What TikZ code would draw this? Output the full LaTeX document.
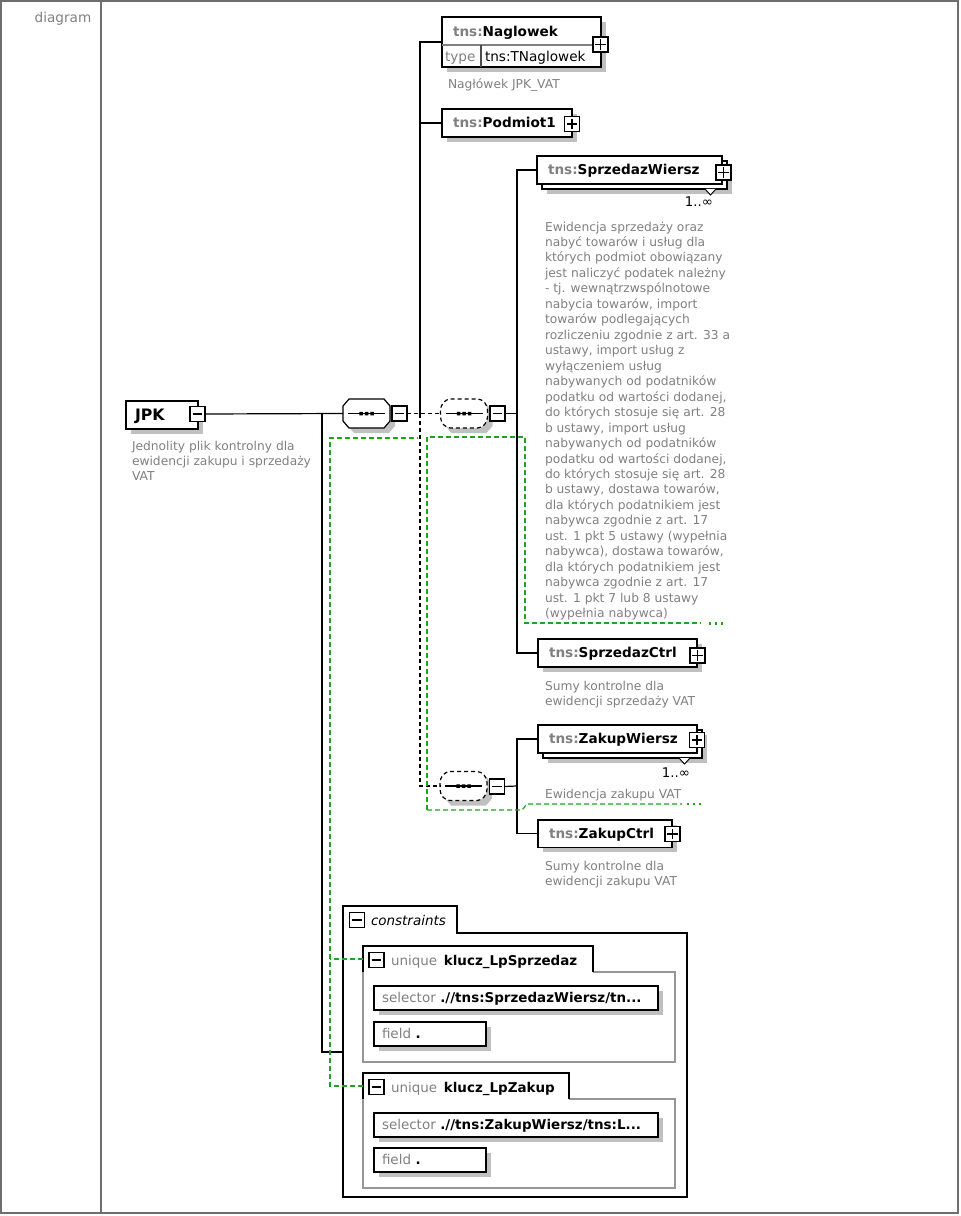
\documentclass[tikz,border=0pt]{standalone}
\usepackage{fontspec}
\setmainfont{DejaVu Sans}
\usetikzlibrary{shadows}
\newcommand\titlef{\fontsize{10.2}{12}\selectfont\bfseries}
\newcommand\titlereg{\fontsize{10.2}{12}\selectfont}
\newcommand\descf{\fontsize{9.2}{11.6}\selectfont}
\newcommand\consf{\fontsize{10.1}{12}\selectfont}
\newcommand\fstrut{\rule{0pt}{7.5pt}}
\definecolor{shadowgray}{RGB}{192,192,192}
\definecolor{txtgray}{RGB}{128,128,128}
\definecolor{kgreen}{RGB}{30,165,30}
\definecolor{framegray}{RGB}{110,110,110}
\definecolor{boxgray}{RGB}{150,150,150}
\tikzset{
  shd/.style={general shadow={fill=shadowgray, shadow xshift=3.75pt, shadow yshift=-3.75pt}},
  elem/.style 2 args={draw=black, line width=0.9pt, fill=white, anchor=north west, inner xsep=8.25pt, inner ysep=0pt, outer sep=0pt, text width=#1, minimum height=#2, align=left, font=\titlef, text height=7.4pt, text depth=0.8pt, shd},
  elemm/.style 2 args={draw=black, line width=0.9pt, fill=white, anchor=north west, inner xsep=8.25pt, inner ysep=0pt, outer sep=0pt, text width=#1, minimum height=#2, align=left, font=\titlef, text height=7.4pt, text depth=0.8pt,
     general shadow={fill=shadowgray, shadow xshift=7.5pt, shadow yshift=-7.5pt},
     general shadow={draw=black, fill=white, shadow xshift=3.75pt, shadow yshift=-3.75pt}},
  boxn/.style 2 args={draw=black, line width=0.9pt, fill=white, anchor=north west, inner sep=0pt, outer sep=0pt, minimum width=#1, minimum height=#2, shd},
  pbox/.style={draw=black, line width=1.3pt, fill=white, minimum size=11.25pt, inner sep=0pt, outer sep=0pt,
     general shadow={fill=black, shadow xshift=0.6pt, shadow yshift=-0.6pt},
     path picture={\draw[line width=1pt] ([xshift=-3.9pt]path picture bounding box.center) -- ([xshift=3.9pt]path picture bounding box.center) ([yshift=-3.9pt]path picture bounding box.center) -- ([yshift=3.9pt]path picture bounding box.center);}},
  mbox/.style={draw=black, line width=0.9pt, fill=white, minimum size=11.25pt, inner sep=0pt, outer sep=0pt,
     path picture={\draw[line width=1pt] ([xshift=-3.6pt]path picture bounding box.center) -- ([xshift=3.6pt]path picture bounding box.center);}},
  mboxk/.style={mbox, line width=1.4pt},
  seqn/.style={minimum width=35.25pt, minimum height=21.75pt, inner sep=0pt, outer sep=0pt},
  desc/.style={font=\descf, text=txtgray, align=left, inner sep=0pt, outer sep=0pt, anchor=north west},
  lbl/.style={inner sep=0pt, outer sep=0pt},
  conn/.style={draw=black, line width=0.9pt},
  dconn/.style={draw=black, line width=0.9pt, dash pattern=on 3pt off 2.25pt},
  kg/.style={draw=kgreen, line width=0.9pt, dash pattern=on 3.75pt off 2.25pt},
  kgdots/.style={draw=kgreen, line width=1.8pt, dash pattern=on 1.8pt off 2.7pt},
  selb/.style 2 args={draw=black, line width=0.9pt, fill=white, anchor=north west, inner xsep=6pt, inner ysep=0pt, outer sep=0pt, text width=#1, minimum height=18pt, align=left, font=\consf, text height=7.2pt, text depth=0.5pt, shd},
}
\newcommand\octo[3]{%
  \path[#3] (#1,#2) ++(-17.5,-14.5) -- ++(35,0) -- ++(6,7) -- ++(0,15) -- ++(-6,7) -- ++(-35,0) -- ++(-6,-7) -- ++(0,-15) -- cycle;}
\newcommand\seqsym[2]{%
  \draw[line width=0.9pt] (#1,#2) +(-18.5,0) -- +(18.5,0);
  \fill (#1,#2) +(-7.25,-1.75) rectangle +(-3.75,1.75) +(-1.75,-1.75) rectangle +(1.75,1.75) +(3.75,-1.75) rectangle +(7.25,1.75);}
\begin{document}
\begin{tikzpicture}[x=0.75pt,y=-0.75pt]
\useasboundingbox (0,0) rectangle (960,1216);
% frame
\draw[framegray, line width=1.1pt] (1,1) rectangle (958,1213);
\draw[framegray, line width=0.9pt] (101,1) -- (101,1213);
\node[lbl, anchor=base, font=\fontsize{10.2}{12}\selectfont, text=txtgray] (diag) at (63,22.5) {diagram};

% JPK
\node[elem={40.5pt}{21pt}, inner xsep=6.75pt, font=\fontsize{11.8}{13}\selectfont\bfseries, text height=8.5pt] (jpk) at (126,401) {JPK};
\node[mbox] (jpkm) at (197.5,414) {};
\node[desc] (jpkd) at (132,440) {\fstrut Jednolity plik kontrolny dla\\ewidencji zakupu i sprzedaży\\VAT};

% Naglowek
\node[boxn={119.25pt}{37.5pt}] (nag) at (442,17) {};
\draw[gray, line width=0.8pt] (442,45) -- (601,45);
\draw[black!70, line width=0.8pt] (481,45) -- (481,67);
\node[lbl, anchor=base west, font=\titlef] (nagt) at (453,36.5) {\textcolor{txtgray}{tns:}Naglowek};
\node[lbl, anchor=base west, font=\titlereg, text=txtgray] (nagtl) at (445,62) {type};
\node[lbl, anchor=base west, font=\titlereg] (nagtv) at (485,62) {tns:TNaglowek};
\node[pbox] (nagp) at (600.5,44.5) {};
\node[desc] (nagd) at (448,79) {\fstrut Nagłówek JPK\_VAT};

% Podmiot1
\node[elem={81pt}{21pt}] (pod) at (442,109) {\textcolor{txtgray}{tns:}Podmiot1};
\node[pbox] (podp) at (572,124) {};

% sequences
\octo{371.5}{418.5}{fill=shadowgray}
\octo{366.5}{413.5}{draw=black, line width=0.9pt, fill=white}
\seqsym{366.5}{413.5}
\node[seqn] (seq1) at (366.5,413.5) {};
\node[mbox] (seq1m) at (399.5,413.5) {};

\octo{469}{418.5}{fill=shadowgray}
\octo{464}{413.5}{draw=black, line width=0.9pt, fill=white, dash pattern=on 3pt off 2.25pt, rounded corners=3pt}
\seqsym{464}{413.5}
\node[seqn] (seq2) at (464,413.5) {};
\node[mboxk] (seq2m) at (497.5,413.5) {};

\octo{468.5}{791}{fill=shadowgray}
\octo{463.5}{786}{draw=black, line width=0.9pt, fill=white, dash pattern=on 3pt off 2.25pt, rounded corners=3pt}
\seqsym{463.5}{786}
\node[seqn] (seq3) at (463.5,786) {};
\node[mboxk] (seq3m) at (497,786.5) {};

% SprzedazWiersz
\node[elemm={122.25pt}{21pt}] (sw) at (537,156) {\textcolor{txtgray}{tns:}SprzedazWiersz};
\node[pbox] (swp) at (723.5,172.5) {};
\draw[black, line width=0.7pt, fill=white] (705,189) -- (710.5,195) -- (716,189);
\node[lbl, anchor=base east, font=\fontsize{10}{12}\selectfont] (swc) at (713,207) {1..∞};
\node[desc] (swd) at (545,221) {\fstrut Ewidencja sprzedaży oraz\\nabyć towarów i usług dla\\których podmiot obowiązany\\jest naliczyć podatek należny\\- tj. wewnątrzwspólnotowe\\nabycia towarów, import\\towarów podlegających\\rozliczeniu zgodnie z art. 33 a\\ustawy, import usług z\\wyłączeniem usług\\nabywanych od podatników\\podatku od wartości dodanej,\\do których stosuje się art. 28\\b ustawy, import usług\\nabywanych od podatników\\podatku od wartości dodanej,\\do których stosuje się art. 28\\b ustawy, dostawa towarów,\\dla których podatnikiem jest\\nabywca zgodnie z art. 17\\ust. 1 pkt 5 ustawy (wypełnia\\nabywca), dostawa towarów,\\dla których podatnikiem jest\\nabywca zgodnie z art. 17\\ust. 1 pkt 7 lub 8 ustawy\\(wypełnia nabywca)};

% SprzedazCtrl
\node[elem={102.75pt}{21pt}] (sc) at (538,639) {\textcolor{txtgray}{tns:}SprzedazCtrl};
\node[pbox] (scp) at (697.5,655.5) {};
\node[desc] (scd) at (545,680) {\fstrut Sumy kontrolne dla\\ewidencji sprzedaży VAT};

% ZakupWiersz
\node[elemm={102.75pt}{21pt}] (zw) at (538,725) {\textcolor{txtgray}{tns:}ZakupWiersz};
\node[pbox] (zwp) at (697,740) {};
\draw[black, line width=0.7pt, fill=white] (679,758) -- (684.5,764) -- (690,758);
\node[lbl, anchor=base east, font=\fontsize{10}{12}\selectfont] (zwc) at (690,777) {1..∞};
\node[desc] (zwd) at (545,788) {\fstrut Ewidencja zakupu VAT};

% ZakupCtrl
\node[elem={84pt}{20.5pt}] (zc) at (538,820) {\textcolor{txtgray}{tns:}ZakupCtrl};
\node[pbox] (zcp) at (672.5,834) {};
\node[desc] (zcd) at (545,860) {\fstrut Sumy kontrolne dla\\ewidencji zakupu VAT};

% constraints
\draw[black, line width=1.1pt, fill=white] (343,906) -- (457,906) -- (457,933) -- (687,933) -- (687,1197) -- (343,1197) -- cycle;
\coordinate (cons) at (343,1052);
\node[mbox] (consm) at (357,920) {};
\node[lbl, anchor=base west, font=\consf\itshape] (consl) at (371,925) {constraints};

% unique 1
\draw[boxgray, line width=0.8pt] (593,972) -- (675,972) -- (675,1062) -- (363,1062) -- (363,972);
\draw[black, line width=0.8pt] (363,972) -- (363,946) -- (593,946) -- (593,972);
\coordinate (u1) at (363,959);
\node[mbox] (u1m) at (376.5,960) {};
\node[lbl, anchor=base west, font=\consf] (u1l) at (391,965) {\textcolor{txtgray}{unique}\hspace{5pt}\textbf{klucz\_LpSprzedaz}};
\node[selb={201pt}{18pt}] (u1s) at (374,986) {\textcolor{txtgray}{selector} \textbf{.//tns:SprzedazWiersz/tn...}};
\node[selb={72pt}{18pt}] (u1f) at (374,1022) {\textcolor{txtgray}{field} \textbf{.}};

% unique 2
\draw[boxgray, line width=0.8pt] (569,1099) -- (675,1099) -- (675,1188) -- (363,1188) -- (363,1099);
\draw[black, line width=0.8pt] (363,1099) -- (363,1073) -- (569,1073) -- (569,1099);
\coordinate (u2) at (363,1086);
\node[mbox] (u2m) at (376.5,1087) {};
\node[lbl, anchor=base west, font=\consf] (u2l) at (391,1092) {\textcolor{txtgray}{unique}\hspace{5pt}\textbf{klucz\_LpZakup}};
\node[selb={201pt}{18pt}] (u2s) at (374,1113) {\textcolor{txtgray}{selector} \textbf{.//tns:ZakupWiersz/tns:L...}};
\node[selb={72pt}{18pt}] (u2f) at (374,1148) {\textcolor{txtgray}{field} \textbf{.}};

% connectors
\coordinate (busJ) at (322,413.5);
\coordinate (busA) at (420,413.5);
\coordinate (busB) at (517,413.5);
\coordinate (busC) at (517,786);
\draw[conn] (jpkm.east) -- (seq1.west);
\draw[conn] (busJ) |- (cons);
\draw[conn] (nag.west) -| (busA);
\draw[conn] (pod.west) -- (pod.west -| busA);
\draw[dconn] (seq1m.east) -- (seq2.west);
\draw[dconn] (busA) |- (seq3.west);
\draw[conn] (seq2m.east) -- (busB);
\draw[conn] (sw.west) -| (busB) |- (sc.west);
\draw[conn] (seq3m.east) -- (busC);
\draw[conn] (zw.west) -| (busC) |- (zc.west);

% key reference lines (green)
\coordinate (gA) at (330,438);
\coordinate (gA2) at (418,438);
\draw[kg] (u2) -| (gA) -- (gA2);
\draw[kg] (u1) -- (u1 -| gA);
\coordinate (gB) at (427,810);
\coordinate (gB1) at (427,437);
\coordinate (gB2) at (525,437);
\coordinate (gB3) at (525,623);
\coordinate (gB4) at (701,623);
\draw[kg] (gB) -- (gB1) -- (gB2) -- (gB3) -- (gB4);
\draw[kgdots] (709,623.5) -- (726,623.5);
\coordinate (gC1) at (522,810);
\coordinate (gC2) at (527,804);
\coordinate (gC3) at (682,804);
\draw[kg] (gB) -- (gC1) -- (gC2) -- (gC3);
\draw[kgdots] (687,804) -- (704,804);
\end{tikzpicture}
\end{document}
